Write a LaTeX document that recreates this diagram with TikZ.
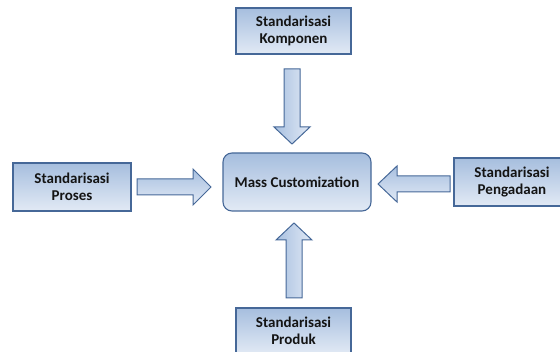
\documentclass[tikz,border=0pt]{standalone}
\usepackage{fontspec}
\setmainfont{Carlito}
\begin{document}
\begin{tikzpicture}[x=1pt,y=-1pt,
  box/.style={draw={rgb,255:red,70;green,104;blue,152}, line width=1.1pt,
    top color={rgb,255:red,166;green,190;blue,222},
    bottom color={rgb,255:red,226;green,234;blue,245},
    font=\bfseries\fontsize{15}{16.5}\selectfont, text={rgb,255:red,20;green,20;blue,20}, align=center, inner sep=0pt},
  blockarrow/.style={draw={rgb,255:red,70;green,104;blue,152}, line width=1pt, line join=miter}]
\clip (0,0) rectangle (560,352);
% boxes
\node[box, minimum width=115pt, minimum height=46pt] (komp) at (293.5,31) {Standarisasi\\Komponen};
\node[box, minimum width=118pt, minimum height=48pt] (pros) at (72,187) {Standarisasi\\Proses};
\node[box, rounded corners=9pt, minimum width=148pt, minimum height=58pt] (mc) at (297,182) {Mass Customization};
\node[box, minimum width=116pt, minimum height=48pt] (peng) at (512,182) {Standarisasi\\Pengadaan};
\node[box, minimum width=115pt, minimum height=46pt] (prod) at (293.5,331) {Standarisasi\\Produk};
% top arrow (down)
\path[blockarrow, left color={rgb,255:red,168;green,192;blue,224}, right color={rgb,255:red,225;green,233;blue,245}]
  (284,69) -- (300,69) -- (300,127) -- (310,127) -- (292,144) -- (274,127) -- (284,127) -- cycle;
% bottom arrow (up)
\path[blockarrow, left color={rgb,255:red,168;green,192;blue,224}, right color={rgb,255:red,225;green,233;blue,245}]
  (286,298) -- (302,298) -- (302,240) -- (312,240) -- (294,223) -- (276,240) -- (286,240) -- cycle;
% left arrow (right)
\path[blockarrow, top color={rgb,255:red,168;green,192;blue,224}, bottom color={rgb,255:red,225;green,233;blue,245}]
  (137,179) -- (193,179) -- (193,169) -- (211,187) -- (193,205) -- (193,195) -- (137,195) -- cycle;
% right arrow (left)
\path[blockarrow, top color={rgb,255:red,168;green,192;blue,224}, bottom color={rgb,255:red,225;green,233;blue,245}]
  (450,176) -- (397,176) -- (397,166) -- (378,184) -- (397,202) -- (397,192) -- (450,192) -- cycle;
\end{tikzpicture}
\end{document}
